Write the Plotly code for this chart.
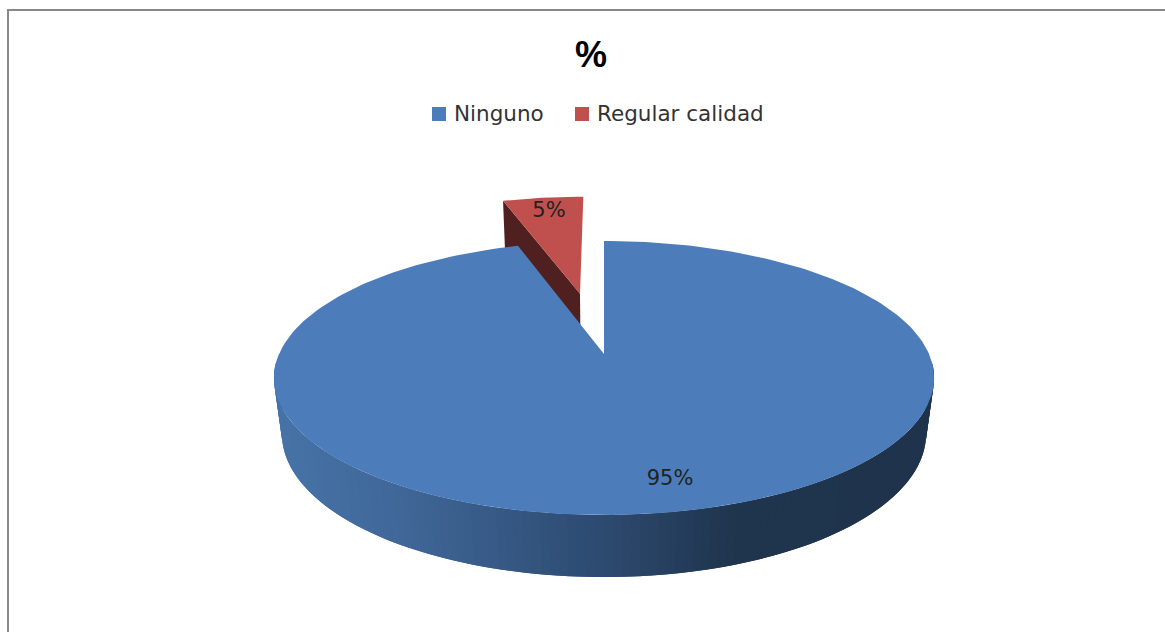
import numpy as np
import plotly.graph_objects as go

categories = ["Ninguno", "Regular calidad"]
values = [95, 5]
slice_colors = ["#4c7dba", "#c0504d"]
title_text = "%"

W, H = 1165, 632
CX, CY = 604, 354     # pie centre on the page
A, B, K = 325, 132.8, 0.175   # perspective of the disc
DROP, SHRINK = 56.6, 0.024    # perspective of the base
EXPLODE = 0.50

total = sum(values)
blue_sweep = 360 * values[0] / total   # clockwise from 12 o'clock


def project(theta, r=1.0, base=False, shift=(0.0, 0.0)):
    t = np.radians(np.asarray(theta, dtype=float))
    X = r * np.sin(t) + shift[0]
    Y = -r * np.cos(t) + shift[1]
    w = 1 - K * Y + (SHRINK if base else 0)
    return CX + A * X / w, CY + (B * Y + (DROP if base else 0)) / w


def poly(x, y, color, width=0.0):
    return go.Scatter(x=list(x), y=list(y), mode="lines", fill="toself", fillcolor=color,
                      line=dict(color=color, width=width), hoverinfo="skip", showlegend=False)


def wall_color(px):
    stops_x = [270, 400, 560, 640, 730, 940]
    stops = np.array([[0x47, 0x74, 0xa8], [0x40, 0x67, 0x98], [0x30, 0x50, 0x78],
                      [0x2a, 0x44, 0x66], [0x20, 0x35, 0x4e], [0x1f, 0x33, 0x4c]])
    c = [np.interp(px, stops_x, stops[:, i]) for i in range(3)]
    return "rgb(%d,%d,%d)" % tuple(c)


fig = go.Figure()

# exploded small slice
red_start = blue_sweep
red_mid = red_start + (360 - blue_sweep) / 2
m = np.radians(red_mid)
shift = (EXPLODE * np.sin(m) - 0.002, -EXPLODE * np.cos(m))
arc = np.linspace(red_start, 360, 30)
ax_, ay_ = project(arc, shift=shift)
apex = project(0, r=0, shift=shift)
apex_b = project(0, r=0, base=True, shift=shift)
c0 = project(red_start, shift=shift)
c0_b = project(red_start, base=True, shift=shift)
fig.add_trace(poly([c0[0], apex[0], apex_b[0], c0_b[0]], [c0[1], apex[1], apex_b[1], c0_b[1]], "#4f201f"))
fig.add_trace(poly(np.r_[apex[0], ax_], np.r_[apex[1], ay_], slice_colors[1]))

# big slice: side wall, shaded strip by strip
th = np.linspace(93, 267, 131)
tx, ty = project(th)
bx, by = project(th, base=True)
for i in range(len(th) - 1):
    j = min(i + 2, len(th) - 1)
    fig.add_trace(poly([tx[i], tx[j], bx[j], bx[i]], [ty[i], ty[j], by[j], by[i]],
                       wall_color((tx[i] + tx[j]) / 2)))

# big slice: top face
arc = np.linspace(0, blue_sweep, 240)
ax_, ay_ = project(arc)
fig.add_trace(poly(np.r_[CX, ax_], np.r_[CY, ay_], slice_colors[0]))

# value labels
fig.add_trace(go.Scatter(x=[670, 549], y=[480, 212], mode="text",
                         text=[f"{v}%" for v in values],
                         textfont=dict(family="DejaVu Sans", size=21, color="#222222"),
                         hoverinfo="skip", showlegend=False))

# legend keys
for cat, col, px, tx_ in zip(categories, slice_colors, [439, 582], [454, 597]):
    fig.add_trace(go.Scatter(x=[px], y=[114], mode="markers",
                             marker=dict(symbol="square", size=14, color=col),
                             hoverinfo="skip", showlegend=False))
    fig.add_trace(go.Scatter(x=[tx_], y=[116], mode="text", text=[cat],
                             textposition="middle right",
                             textfont=dict(family="DejaVu Sans", size=21.5, color="#333333"),
                             hoverinfo="skip", showlegend=False))

fig.update_layout(
    width=W, height=H, margin=dict(l=0, r=0, t=0, b=0),
    paper_bgcolor="white", plot_bgcolor="white",
    title=dict(text=title_text, x=591 / W, y=1 - 54 / H, xanchor="center", yanchor="middle",
               font=dict(family="Liberation Sans", size=36, color="black", weight="bold")),
    xaxis=dict(range=[0, W], visible=False, fixedrange=True),
    yaxis=dict(range=[H, 0], visible=False, fixedrange=True),
    shapes=[dict(type="rect", xref="paper", yref="paper", x0=8 / W, x1=1.01, y0=-0.01, y1=1 - 10 / H,
                 line=dict(color="#888888", width=2), layer="below")],
)
fig.write_html("out.html", post_script="document.body.style.margin='0';", config={"displayModeBar": False})
